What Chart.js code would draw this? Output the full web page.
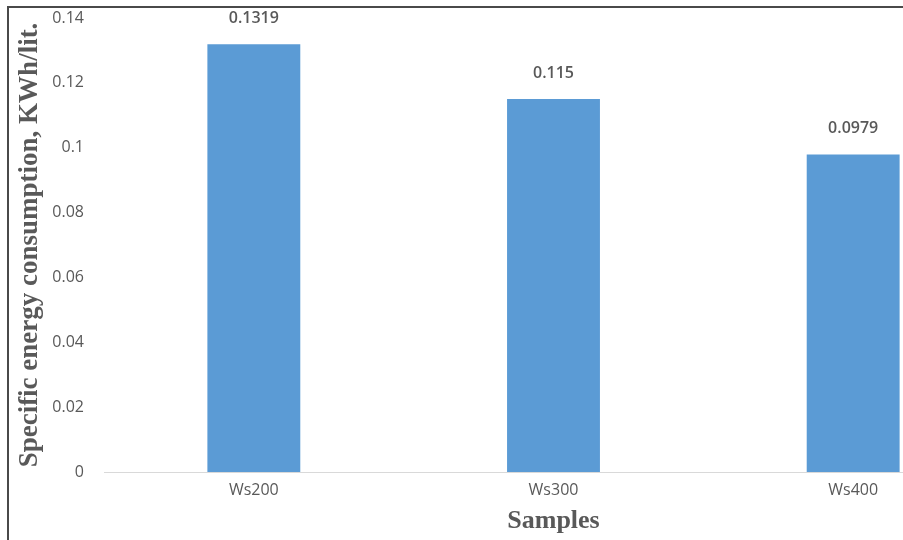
<!DOCTYPE html>
<html>
<head>
<meta charset="utf-8">
<script src="https://cdn.jsdelivr.net/npm/chart.js@4"></script>
<style>
  html, body { margin: 0; padding: 0; background: #fff; overflow: hidden; width: 903px; height: 540px; }
  #wrap { position: absolute; left: 0; top: 0; width: 1003px; height: 540px; }
  #frame { position: absolute; left: 7px; top: 6px; width: 1000px; height: 540px;
           border-left: 2px solid #4a4a4a; border-top: 2px solid #4a4a4a; pointer-events: none; }
</style>
</head>
<body>
<div id="wrap"><canvas id="c" width="1003" height="540"></canvas></div>
<div id="frame"></div>
<script>
// Samples and their specific energy consumption (kWh per litre)
const categories = ['Ws200', 'Ws300', 'Ws400'];
const consumption = [0.1319, 0.115, 0.0979];
const valueLabels = ['0.1319', '0.115', '0.0979'];
const yTicks = [0, 0.02, 0.04, 0.06, 0.08, 0.1, 0.12, 0.14];
const yTickLabels = ['0', '0.02', '0.04', '0.06', '0.08', '0.1', '0.12', '0.14'];

const textGrey = '#595959';

// Writes each bar's value above its top edge
const barValueLabels = {
  id: 'barValueLabels',
  afterDatasetsDraw(chart) {
    const ctx = chart.ctx;
    const meta = chart.getDatasetMeta(0);
    ctx.save();
    ctx.font = '600 16px "Open Sans"';
    ctx.fillStyle = textGrey;
    ctx.textAlign = 'center';
    ctx.textBaseline = 'bottom';
    meta.data.forEach((bar, i) => {
      ctx.fillText(valueLabels[i], bar.x, bar.y - 18);
    });
    ctx.restore();
  }
};

new Chart(document.getElementById('c'), {
  type: 'bar',
  data: {
    labels: categories,
    datasets: [{
      data: consumption,
      backgroundColor: '#5B9BD5',
      borderWidth: 0,
      categoryPercentage: 1,
      barPercentage: 0.31
    }]
  },
  options: {
    responsive: false,
    animation: false,
    layout: { padding: { top: 18, left: 0, right: 0, bottom: 0 } },
    plugins: { legend: { display: false }, tooltip: { enabled: false } },
    scales: {
      x: {
        grid: { display: false, drawTicks: false },
        border: { display: true, color: '#d9d9d9', width: 1 },
        ticks: { color: textGrey, font: { family: 'Open Sans', size: 16 }, padding: 9 },
        title: {
          display: true, text: 'Samples', color: textGrey,
          font: { family: 'Liberation Serif', size: 26, weight: 'bold' },
          padding: { top: 0, bottom: 3 }
        },
        afterFit(s) { s.height = 68; }
      },
      y: {
        min: 0, max: 0.14,
        afterBuildTicks(s) { s.ticks = yTicks.map(v => ({ value: v })); },
        grid: { display: false, drawTicks: false },
        border: { display: false },
        ticks: {
          color: textGrey, font: { family: 'Open Sans', size: 16 }, padding: 20,
          callback: (v, i) => yTickLabels[i]
        },
        title: {
          display: true, text: 'Specific energy consumption, KWh/lit.', color: textGrey,
          font: { family: 'Liberation Serif', size: 27, weight: 'bold' },
          padding: { top: 14, bottom: 0 }
        },
        afterFit(s) { s.width = 104; s.paddingTop = 0; s.paddingBottom = 0; }
      }
    }
  },
  plugins: [barValueLabels]
});
</script>
</body>
</html>
